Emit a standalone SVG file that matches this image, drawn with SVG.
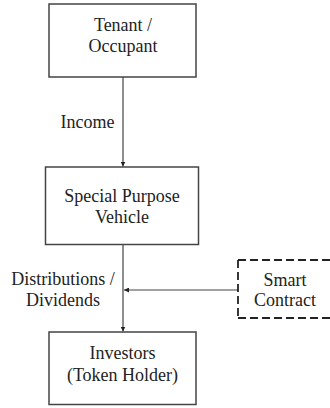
<svg xmlns="http://www.w3.org/2000/svg" width="330" height="408" viewBox="0 0 330 408">
<style>
.box{fill:#fff;stroke:#444;stroke-width:1.5}
.dash{fill:none;stroke:#222;stroke-width:1.8;stroke-dasharray:8 4}
.edge{fill:none;stroke:#444;stroke-width:1.2}
.t{font-family:'Liberation Serif','Times New Roman',Times,serif;font-size:18px;fill:#222;text-anchor:middle}
</style>
<defs>
<marker id="ah" markerWidth="5" markerHeight="5" refX="5" refY="2.5" orient="auto" markerUnits="userSpaceOnUse">
<path d="M0,0 L5,2.5 L0,5 Z" fill="#222"/>
</marker>
</defs>
<rect width="330" height="408" fill="#fff"/>
<g id="connectors">
<line class="edge" x1="123" y1="77" x2="123" y2="166.5" marker-end="url(#ah)"/>
<text class="t" x="87.5" y="128">Income</text>
<line class="edge" x1="123" y1="244.5" x2="123" y2="331.5" marker-end="url(#ah)"/>
<text class="t" x="63" y="285">Distributions /</text>
<text class="t" x="63" y="306">Dividends</text>
<line class="edge" x1="238" y1="290" x2="124" y2="290" marker-end="url(#ah)"/>
</g>
<g id="tenant">
<rect class="box" x="49" y="4" width="147" height="73"/>
<text class="t" x="123" y="31">Tenant /</text>
<text class="t" x="123" y="52">Occupant</text>
</g>
<g id="spv">
<rect class="box" x="45.5" y="167" width="153" height="77.5"/>
<text class="t" x="122" y="202">Special Purpose</text>
<text class="t" x="122" y="223">Vehicle</text>
</g>
<g id="investors">
<rect class="box" x="49" y="332" width="147" height="72.5"/>
<text class="t" x="122.5" y="359">Investors</text>
<text class="t" x="122.5" y="380.5">(Token Holder)</text>
</g>
<g id="smart-contract">
<line class="dash" x1="238" y1="260" x2="340" y2="260"/>
<line class="dash" x1="238" y1="260" x2="238" y2="318"/>
<line class="dash" x1="238" y1="318" x2="340" y2="318"/>
<text class="t" x="285" y="285.5">Smart</text>
<text class="t" x="285" y="305.5">Contract</text>
</g>
</svg>
